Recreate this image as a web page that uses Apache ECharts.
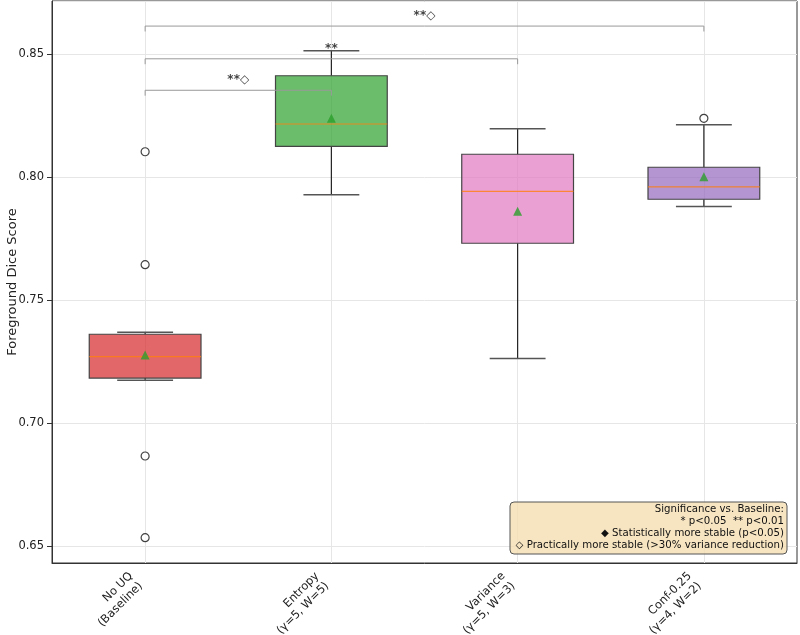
<!DOCTYPE html>
<html>
<head>
<meta charset="utf-8">
<script src="https://cdn.jsdelivr.net/npm/echarts@6/dist/echarts.min.js"></script>
<style>
	html, body { margin: 0; padding: 0; background: #fff; }
	#main { width: 800px; height: 635px; }
</style>
</head>
<body>
<div id="main"></div>
<script>
// 数据
var categories = ['No UQ\n(Baseline)', 'Entropy\n(γ=5, W=5)', 'Variance\n(γ=5, W=3)', 'Conf-0.25\n(γ=4, W=2)'];
var whiskerLow = [0.7175, 0.7929, 0.7263, 0.7881];
var q1 = [0.7184, 0.8126, 0.7732, 0.7911];
var median = [0.7271, 0.8217, 0.7943, 0.7961];
var q3 = [0.7362, 0.8413, 0.8094, 0.8041];
var whiskerHigh = [0.7370, 0.8515, 0.8198, 0.8214];
var means = [0.7278, 0.8240, 0.7862, 0.8002];
var outliers = [[0, 0.8104], [0, 0.7645], [0, 0.6867], [0, 0.6535], [3, 0.8240]];

// 显著性标注
var bracketPairs = [[0, 1], [0, 2], [0, 3]];
var bracketLevels = [0.8354, 0.8482, 0.8615];
var bracketLabels = ['**◇', '**', '**◇'];

var boxColors = ['rgba(214,39,40,0.7)', 'rgba(44,160,44,0.7)', 'rgba(227,119,194,0.7)', 'rgba(148,103,189,0.7)'];
var FONT = 'DejaVu Sans';

var boxData = categories.map(function(c, i) {
	return [i, whiskerLow[i], q1[i], median[i], q3[i], whiskerHigh[i]];
});

// 箱线图绘制
var renderBox = function(params, api) {
	var i = api.value(0);
	var lo = api.coord([i, api.value(1)]),
		b1 = api.coord([i, api.value(2)]),
		md = api.coord([i, api.value(3)]),
		b3 = api.coord([i, api.value(4)]),
		hi = api.coord([i, api.value(5)]);
	var bw = api.size([1, 0])[0] * 0.6;
	var x = lo[0];
	var lineStyle = { stroke: '#222', lineWidth: 1.2 };
	var capStyle = { stroke: '#555', lineWidth: 1.5 };
	return {
		type: 'group',
		children: [
			{ type: 'line', shape: { x1: x, y1: lo[1], x2: x, y2: b1[1] }, style: lineStyle },
			{ type: 'line', shape: { x1: x, y1: b3[1], x2: x, y2: hi[1] }, style: lineStyle },
			{ type: 'line', shape: { x1: x - bw / 4, y1: lo[1], x2: x + bw / 4, y2: lo[1] }, style: capStyle },
			{ type: 'line', shape: { x1: x - bw / 4, y1: hi[1], x2: x + bw / 4, y2: hi[1] }, style: capStyle },
			{ type: 'rect', shape: { x: x - bw / 2, y: b3[1], width: bw, height: b1[1] - b3[1] },
				style: { fill: boxColors[i], stroke: '#444', lineWidth: 1.2 } },
			{ type: 'line', shape: { x1: x - bw / 2, y1: md[1], x2: x + bw / 2, y2: md[1] },
				style: { stroke: 'rgba(255,127,14,0.8)', lineWidth: 1.2 } }
		]
	};
};

// 括号线
var bracketSeries = bracketPairs.map(function(p, k) {
	var y = bracketLevels[k], t = 0.0022;
	return {
		type: 'line',
		xAxisIndex: 1,
		data: [[p[0], y - t], [p[0], y], [p[1], y], [p[1], y - t]],
		symbol: 'none',
		lineStyle: { color: '#999', width: 1 },
		silent: true,
		z: 3
	};
});

var bracketText = {
	type: 'scatter',
	xAxisIndex: 1,
	symbolSize: 0,
	data: bracketPairs.map(function(p, k) {
		return { value: [(p[0] + p[1]) / 2, bracketLevels[k]], label: { formatter: bracketLabels[k] } };
	}),
	label: { show: true, position: 'top', distance: 4, fontFamily: FONT, fontSize: 12, fontWeight: 'bold', color: '#111' },
	silent: true,
	z: 5
};

var chart = echarts.init(document.getElementById('main'));
var option = {
	animation: false,
	grid: { left: 52, right: 3, top: 1, bottom: 72, show: true, borderColor: '#333', borderWidth: 1,
		containLabel: false, outerBoundsMode: 'none' },
	xAxis: [{
		type: 'category',
		data: categories,
		axisLine: { onZero: false, lineStyle: { color: '#333' } },
		axisTick: { alignWithLabel: true, length: 5, lineStyle: { color: '#333' } },
		axisLabel: { rotate: 45, fontFamily: FONT, fontSize: 11.5, color: '#222', margin: 7, lineHeight: 14,
			padding: [0, 13, 0, 0] },
		splitLine: { show: false }
	}, {
		type: 'value',
		min: -0.5,
		max: 3.5,
		show: false,
		splitLine: { show: false }
	}],
	yAxis: {
		type: 'value',
		min: 0.6432,
		max: 0.8717,
		splitNumber: 5,
		name: 'Foreground Dice Score',
		nameLocation: 'middle',
		nameGap: 33,
		nameMoveOverlap: false,
		nameTextStyle: { fontFamily: FONT, fontSize: 13, color: '#222' },
		axisLine: { show: true, onZero: false, lineStyle: { color: '#333' } },
		axisTick: { show: true, length: 5, lineStyle: { color: '#333' } },
		axisLabel: { fontFamily: FONT, fontSize: 11.5, color: '#222', margin: 8, showMinLabel: false, showMaxLabel: false,
			formatter: function(v) { return v.toFixed(2); } },
		splitLine: { lineStyle: { color: '#e6e6e6', width: 1 } }
	},
	series: [{
		// 竖向网格
		type: 'line',
		xAxisIndex: 1,
		data: [],
		silent: true,
		markLine: {
			z: 1,
			symbol: 'none',
			silent: true,
			label: { show: false },
			lineStyle: { color: '#e6e6e6', width: 1, type: 'solid' },
			data: categories.map(function(c, i) { return { xAxis: i }; })
		},
		z: 1
	}, {
		type: 'custom',
		renderItem: renderBox,
		data: boxData,
		encode: { x: 0, y: [1, 2, 3, 4, 5] },
		z: 2
	}, {
		type: 'scatter',
		data: outliers,
		symbol: 'circle',
		symbolSize: 8,
		itemStyle: { color: '#fff', borderColor: '#111', borderWidth: 1.2 },
		z: 4
	}, {
		type: 'scatter',
		data: means.map(function(v, i) { return [i, v]; }),
		symbol: 'triangle',
		symbolSize: 9,
		itemStyle: { color: '#2ca02c' },
		z: 4
	}].concat(bracketSeries, [bracketText]),
	graphic: [{
		type: 'rect',
		shape: { x: 510, y: 502, width: 277, height: 52, r: 4 },
		style: { fill: 'rgba(245,222,179,0.8)', stroke: '#555', lineWidth: 1 },
		z: 10
	}, {
		type: 'text',
		x: 784,
		y: 503.5,
		style: {
			text: 'Significance vs. Baseline:\n* p<0.05  ** p<0.01\n◆ Statistically more stable (p<0.05)\n◇ Practically more stable (>30% variance reduction)',
			align: 'right',
			verticalAlign: 'top',
			font: '10.2px "DejaVu Sans"',
			lineHeight: 12,
			fill: '#111'
		},
		z: 11
	}]
};
chart.setOption(option);
</script>
</body>
</html>
